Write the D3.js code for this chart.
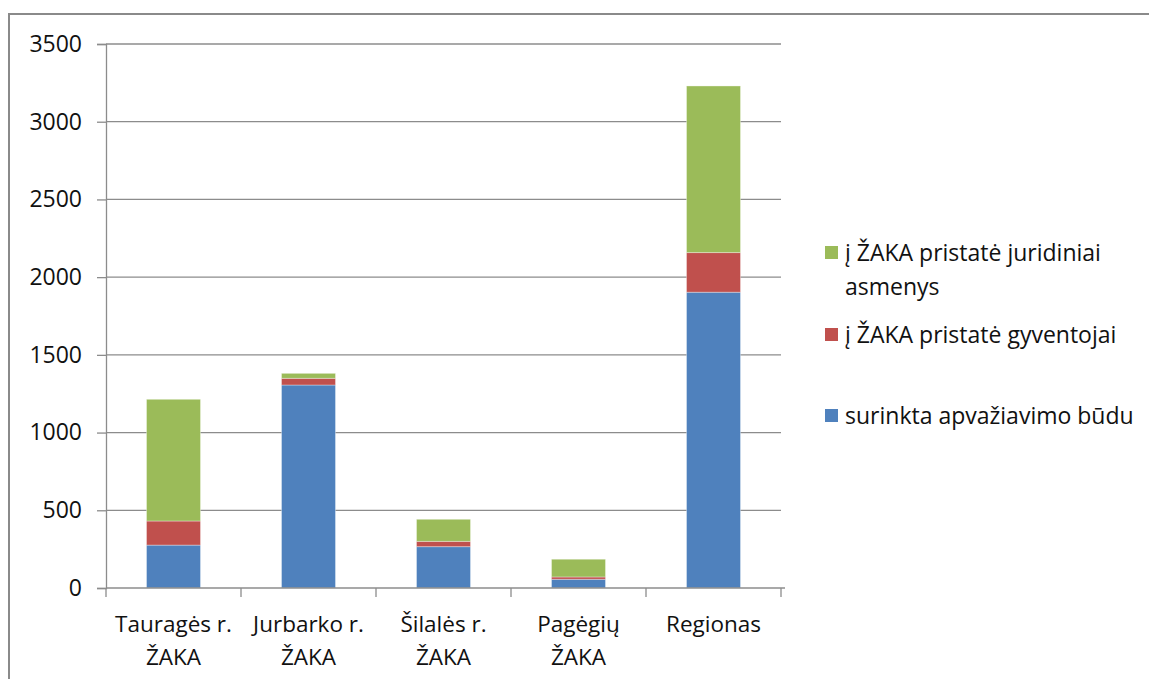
<!DOCTYPE html>
<html><head><meta charset="utf-8">
<script src="https://cdn.jsdelivr.net/npm/d3@7"></script>
<style>body{margin:0;background:#fff}svg{display:block}text{font-family:"Open Sans",sans-serif;fill:#111}</style>
</head><body><svg id="c" width="1149" height="679"></svg>
<script>
const categories = [["Tauragės r.","ŽAKA"],["Jurbarko r.","ŽAKA"],["Šilalės r.","ŽAKA"],["Pagėgių","ŽAKA"],["Regionas"]];
const seriesNames = ["surinkta apvažiavimo būdu","į ŽAKA pristatė gyventojai","į ŽAKA pristatė juridiniai asmenys"];
const surinkta = [276, 1306, 266, 56, 1903];
const gyventojai = [155, 43, 34, 15, 255];
const juridiniai = [783, 32, 142, 114, 1072];
const yTicks = [0,500,1000,1500,2000,2500,3000,3500];
const colors = ["#4F81BD","#C0504D","#9BBB59"];

const svg = d3.select("#c");
svg.append("rect").attr("x",9).attr("y",14).attr("width",1160).attr("height",700)
  .attr("fill","none").attr("stroke","#8a8a8a").attr("stroke-width",2);

const pL=106, pR=781, pT=44, pB=588;
const x = d3.scaleBand().domain(d3.range(categories.length)).range([pL,pR]).padding(0);
const y = d3.scaleLinear().domain([0,3500]).range([pB,pT]);

// gridlines
svg.append("g").selectAll("line").data(yTicks.filter(d=>d>0)).join("line")
  .attr("x1",pL).attr("x2",pR).attr("y1",d=>y(d)).attr("y2",d=>y(d))
  .attr("stroke","#8c8c8c").attr("stroke-width",1.3);

// y axis
const ya = svg.append("g").attr("transform",`translate(${pL},0)`)
  .call(d3.axisLeft(y).tickValues(yTicks).tickSize(9).tickPadding(15).tickFormat(d3.format("d")));
ya.select(".domain").attr("stroke","#8c8c8c").attr("stroke-width",1.3);
ya.selectAll(".tick line").attr("stroke","#8c8c8c").attr("stroke-width",1.3);
ya.selectAll("text").style("font-size","23px").style("font-family","Open Sans").attr("fill","#111");

// stacked data
const rows = categories.map((c,i)=>({i, s0:surinkta[i], s1:gyventojai[i], s2:juridiniai[i]}));
const stack = d3.stack().keys(["s0","s1","s2"])(rows);
const bw = x.bandwidth()*0.4;
svg.append("g").selectAll("g").data(stack).join("g").attr("fill",(d,k)=>colors[k])
  .selectAll("rect").data(d=>d).join("rect")
  .attr("x",d=>x(d.data.i)+x.bandwidth()/2-bw/2).attr("width",bw)
  .attr("y",d=>y(d[1])).attr("height",d=>y(d[0])-y(d[1]))
  .attr("stroke","rgba(255,255,255,0.35)").attr("stroke-width",1);

// x axis
const xa = svg.append("g").attr("transform",`translate(0,${pB})`);
xa.append("line").attr("x1",pL).attr("x2",pR+4).attr("y1",0).attr("y2",0).attr("stroke","#8c8c8c").attr("stroke-width",1.3);
const xt = d3.range(categories.length+1).map(i=> i<categories.length ? x(i) : pR);
xa.selectAll(".t").data(xt).join("line").attr("class","t")
  .attr("x1",d=>d).attr("x2",d=>d).attr("y1",0).attr("y2",9).attr("stroke","#8c8c8c").attr("stroke-width",1.3);
xa.selectAll("text").data(categories).join("text")
  .attr("text-anchor","middle").attr("transform",(d,i)=>`translate(${x(i)+x.bandwidth()/2},0)`)
  .style("font-size","22.5px")
  .selectAll("tspan").data(d=>d).join("tspan")
  .attr("x",0).attr("y",(d,j)=>44+j*33).text(d=>d);

// legend
const legend = [
  {k:2, lines:["į ŽAKA pristatė juridiniai","asmenys"], y:253},
  {k:1, lines:["į ŽAKA pristatė gyventojai"], y:335},
  {k:0, lines:["surinkta apvažiavimo būdu"], y:416}
];
const lg = svg.append("g").selectAll("g").data(legend).join("g");
lg.append("rect").attr("x",825).attr("y",d=>d.y-7).attr("width",13).attr("height",13).attr("fill",d=>colors[d.k]);
lg.append("text").style("font-size","23px").selectAll("tspan").data(d=>d.lines.map((l,j)=>({l,y:d.y+j*34}))).join("tspan")
  .attr("x",845).attr("y",d=>d.y+8).text(d=>d.l);
</script></body></html>
